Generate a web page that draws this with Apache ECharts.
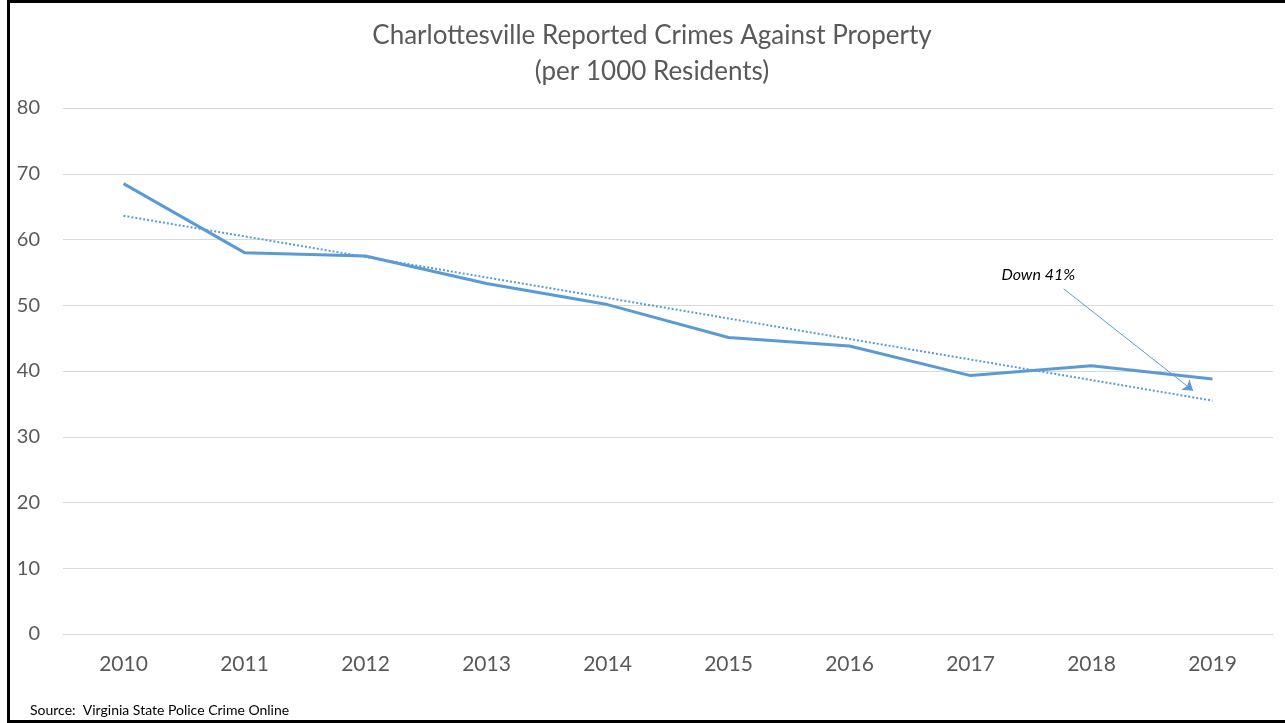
<!DOCTYPE html>
<html>
<head>
<meta charset="utf-8">
<script src="https://cdn.jsdelivr.net/npm/echarts@6/dist/echarts.min.js"></script>
<style>
  html, body { margin: 0; padding: 0; background: #fff; }
  #main { position: absolute; left: 0; top: 0; width: 1285px; height: 723px; }
  /* the black frame round the chart (no right edge in the picture) */
  #frame {
    position: absolute; left: 7px; top: 0; width: 1278px; height: 723px;
    box-sizing: border-box; pointer-events: none;
    border-top: 3px solid #000; border-left: 3px solid #000; border-bottom: 3px solid #000;
  }
</style>
</head>
<body>
<div id="main"></div>
<div id="frame"></div>
<script>
// values
const years = ['2010', '2011', '2012', '2013', '2014', '2015', '2016', '2017', '2018', '2019'];
const crimes = [68.5, 58.0, 57.5, 53.3, 50.1, 45.1, 43.8, 39.3, 40.8, 38.8];
// dotted trend line, its two ends (index, value)
const trendEnds = [[0, 63.6], [9, 35.5]];
// "Down 41%" note and its arrow, in (index, value)
const noteAt = [7.56, 54.6];
const arrowFrom = [7.77, 52.5];
const arrowTo = [8.84, 37.0];
const yTicks = { min: 0, max: 80, step: 10 };

const blue = '#5b9bd5';
const grey = '#595959';
const font = 'Lato, "Open Sans", sans-serif';

const chart = echarts.init(document.getElementById('main'));

const option = {
    animation: false,
    title: [
        {
            text: 'Charlottesville Reported Crimes Against Property\n(per 1000 Residents)',
            left: 647, top: 13, textAlign: 'center',
            textStyle: { fontFamily: font, fontSize: 26, fontWeight: 'normal', color: grey, lineHeight: 36 }
        },
        {
            text: 'Source:  Virginia State Police Crime Online',
            left: 25, top: 698,
            textStyle: { fontFamily: font, fontSize: 14, fontWeight: 'normal', color: '#000' }
        }
    ],
    grid: { left: 63, right: 12, top: 108, bottom: 89 },
    xAxis: [
        {
            type: 'category',
            data: years,
            boundaryGap: true,
            axisLine: { lineStyle: { color: '#d9d9d9', width: 1 } },
            axisTick: { show: false },
            axisLabel: { fontFamily: font, fontSize: 21, color: grey, margin: 20 }
        },
        {
            // hidden value axis, lined up with the category centres, for the trend and note
            type: 'value', min: -0.5, max: 9.5, show: false
        }
    ],
    yAxis: {
        type: 'value',
        min: yTicks.min, max: yTicks.max, interval: yTicks.step,
        axisLine: { show: false },
        axisTick: { show: false },
        splitLine: { lineStyle: { color: '#d9d9d9', width: 1 } },
        axisLabel: { fontFamily: font, fontSize: 20, color: grey, margin: 23 }
    },
    series: [
        {
            name: 'Crimes',
            type: 'line',
            data: crimes,
            symbol: 'none',
            lineStyle: { color: blue, width: 3 },
            z: 3
        },
        {
            name: 'Trend',
            type: 'line',
            xAxisIndex: 1,
            data: trendEnds,
            symbol: 'none',
            lineStyle: { color: blue, width: 2, type: [2, 2] },
            z: 2,
            markLine: {
                silent: true,
                symbol: ['none', 'arrow'],
                symbolSize: 10,
                lineStyle: { color: blue, width: 1, type: 'solid' },
                label: { show: false },
                data: [[{ coord: arrowFrom }, { coord: arrowTo }]]
            },
            markPoint: {
                silent: true,
                symbol: 'rect',
                symbolSize: 1,
                itemStyle: { color: 'rgba(0,0,0,0)' },
                label: {
                    show: true, position: 'inside', formatter: 'Down 41%',
                    fontFamily: font, fontSize: 16, fontStyle: 'italic', color: '#000'
                },
                data: [{ coord: noteAt }]
            }
        }
    ]
};

option && chart.setOption(option);
</script>
</body>
</html>
